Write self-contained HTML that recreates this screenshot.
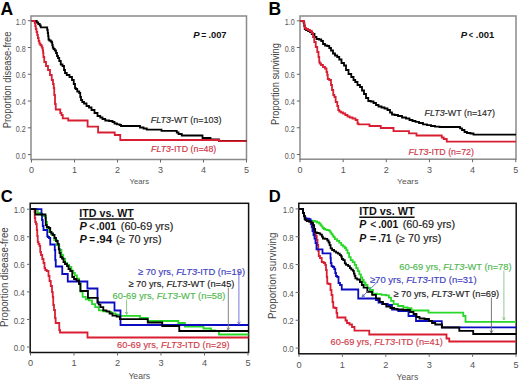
<!DOCTYPE html>
<html><head><meta charset="utf-8"><style>
html,body{margin:0;padding:0;background:#fff;}
svg{display:block;}
text{font-family:"Liberation Sans", sans-serif;}
</style></head><body>
<svg width="520" height="382" viewBox="0 0 520 382">
<rect x="31" y="16" width="215.5" height="143.5" fill="none" stroke="#8a8a8a" stroke-width="1.5"/>
<line x1="27.8" y1="154.60" x2="31" y2="154.60" stroke="#666" stroke-width="1"/>
<text x="25.70" y="158.80" font-size="9.0" fill="#555" text-anchor="end" textLength="9.90" lengthAdjust="spacingAndGlyphs">0.0</text>
<line x1="27.8" y1="127.82" x2="31" y2="127.82" stroke="#666" stroke-width="1"/>
<text x="25.70" y="132.02" font-size="9.0" fill="#555" text-anchor="end" textLength="9.90" lengthAdjust="spacingAndGlyphs">0.2</text>
<line x1="27.8" y1="101.04" x2="31" y2="101.04" stroke="#666" stroke-width="1"/>
<text x="25.70" y="105.24" font-size="9.0" fill="#555" text-anchor="end" textLength="9.90" lengthAdjust="spacingAndGlyphs">0.4</text>
<line x1="27.8" y1="74.26" x2="31" y2="74.26" stroke="#666" stroke-width="1"/>
<text x="25.70" y="78.46" font-size="9.0" fill="#555" text-anchor="end" textLength="9.90" lengthAdjust="spacingAndGlyphs">0.6</text>
<line x1="27.8" y1="47.48" x2="31" y2="47.48" stroke="#666" stroke-width="1"/>
<text x="25.70" y="51.68" font-size="9.0" fill="#555" text-anchor="end" textLength="9.90" lengthAdjust="spacingAndGlyphs">0.8</text>
<line x1="27.8" y1="20.70" x2="31" y2="20.70" stroke="#666" stroke-width="1"/>
<text x="25.70" y="24.90" font-size="9.0" fill="#555" text-anchor="end" textLength="9.90" lengthAdjust="spacingAndGlyphs">1.0</text>
<line x1="31.50" y1="159.5" x2="31.50" y2="162.5" stroke="#666" stroke-width="1"/>
<text x="31.50" y="173.4" font-size="9.0" fill="#555" text-anchor="middle">0</text>
<line x1="74.50" y1="159.5" x2="74.50" y2="162.5" stroke="#666" stroke-width="1"/>
<text x="74.50" y="173.4" font-size="9.0" fill="#555" text-anchor="middle">1</text>
<line x1="117.50" y1="159.5" x2="117.50" y2="162.5" stroke="#666" stroke-width="1"/>
<text x="117.50" y="173.4" font-size="9.0" fill="#555" text-anchor="middle">2</text>
<line x1="160.50" y1="159.5" x2="160.50" y2="162.5" stroke="#666" stroke-width="1"/>
<text x="160.50" y="173.4" font-size="9.0" fill="#555" text-anchor="middle">3</text>
<line x1="203.50" y1="159.5" x2="203.50" y2="162.5" stroke="#666" stroke-width="1"/>
<text x="203.50" y="173.4" font-size="9.0" fill="#555" text-anchor="middle">4</text>
<line x1="246.50" y1="159.5" x2="246.50" y2="162.5" stroke="#666" stroke-width="1"/>
<text x="246.50" y="173.4" font-size="9.0" fill="#555" text-anchor="middle">5</text>
<text x="129.6" y="183.7" font-size="8.0" fill="#555" textLength="19.4" lengthAdjust="spacingAndGlyphs">Years</text>
<text transform="translate(11.2,79.9) rotate(-90)" font-size="10.4" fill="#444" text-anchor="middle" textLength="96.6" lengthAdjust="spacingAndGlyphs">Proportion disease-free</text>
<text x="0.6" y="14.8" font-size="17.5" font-weight="bold" fill="#000">A</text>
<rect x="300" y="16" width="216.0" height="143.2" fill="none" stroke="#8a8a8a" stroke-width="1.5"/>
<line x1="296.8" y1="154.50" x2="300" y2="154.50" stroke="#666" stroke-width="1"/>
<text x="294.70" y="158.70" font-size="9.0" fill="#555" text-anchor="end" textLength="9.90" lengthAdjust="spacingAndGlyphs">0.0</text>
<line x1="296.8" y1="127.76" x2="300" y2="127.76" stroke="#666" stroke-width="1"/>
<text x="294.70" y="131.96" font-size="9.0" fill="#555" text-anchor="end" textLength="9.90" lengthAdjust="spacingAndGlyphs">0.2</text>
<line x1="296.8" y1="101.02" x2="300" y2="101.02" stroke="#666" stroke-width="1"/>
<text x="294.70" y="105.22" font-size="9.0" fill="#555" text-anchor="end" textLength="9.90" lengthAdjust="spacingAndGlyphs">0.4</text>
<line x1="296.8" y1="74.28" x2="300" y2="74.28" stroke="#666" stroke-width="1"/>
<text x="294.70" y="78.48" font-size="9.0" fill="#555" text-anchor="end" textLength="9.90" lengthAdjust="spacingAndGlyphs">0.6</text>
<line x1="296.8" y1="47.54" x2="300" y2="47.54" stroke="#666" stroke-width="1"/>
<text x="294.70" y="51.74" font-size="9.0" fill="#555" text-anchor="end" textLength="9.90" lengthAdjust="spacingAndGlyphs">0.8</text>
<line x1="296.8" y1="20.80" x2="300" y2="20.80" stroke="#666" stroke-width="1"/>
<text x="294.70" y="25.00" font-size="9.0" fill="#555" text-anchor="end" textLength="9.90" lengthAdjust="spacingAndGlyphs">1.0</text>
<line x1="300.00" y1="159.2" x2="300.00" y2="162.2" stroke="#666" stroke-width="1"/>
<text x="300.00" y="173.1" font-size="9.0" fill="#555" text-anchor="middle">0</text>
<line x1="343.15" y1="159.2" x2="343.15" y2="162.2" stroke="#666" stroke-width="1"/>
<text x="343.15" y="173.1" font-size="9.0" fill="#555" text-anchor="middle">1</text>
<line x1="386.30" y1="159.2" x2="386.30" y2="162.2" stroke="#666" stroke-width="1"/>
<text x="386.30" y="173.1" font-size="9.0" fill="#555" text-anchor="middle">2</text>
<line x1="429.45" y1="159.2" x2="429.45" y2="162.2" stroke="#666" stroke-width="1"/>
<text x="429.45" y="173.1" font-size="9.0" fill="#555" text-anchor="middle">3</text>
<line x1="472.60" y1="159.2" x2="472.60" y2="162.2" stroke="#666" stroke-width="1"/>
<text x="472.60" y="173.1" font-size="9.0" fill="#555" text-anchor="middle">4</text>
<line x1="515.75" y1="159.2" x2="515.75" y2="162.2" stroke="#666" stroke-width="1"/>
<text x="515.75" y="173.1" font-size="9.0" fill="#555" text-anchor="middle">5</text>
<text x="397.1" y="183.5" font-size="8.0" fill="#555" textLength="21.3" lengthAdjust="spacingAndGlyphs">Years</text>
<text transform="translate(279.1,84.0) rotate(-90)" font-size="10.4" fill="#444" text-anchor="middle" textLength="81.8" lengthAdjust="spacingAndGlyphs">Proportion surviving</text>
<text x="268.6" y="14.8" font-size="17.5" font-weight="bold" fill="#000">B</text>
<rect x="30.2" y="203.3" width="218.4" height="149.2" fill="none" stroke="#111" stroke-width="1.5"/>
<line x1="27.0" y1="347.00" x2="30.2" y2="347.00" stroke="#666" stroke-width="1"/>
<text x="24.70" y="351.10" font-size="9.2" fill="#555" text-anchor="end" textLength="11.04" lengthAdjust="spacingAndGlyphs">0.0</text>
<line x1="27.0" y1="319.44" x2="30.2" y2="319.44" stroke="#666" stroke-width="1"/>
<text x="24.70" y="323.54" font-size="9.2" fill="#555" text-anchor="end" textLength="11.04" lengthAdjust="spacingAndGlyphs">0.2</text>
<line x1="27.0" y1="291.88" x2="30.2" y2="291.88" stroke="#666" stroke-width="1"/>
<text x="24.70" y="295.98" font-size="9.2" fill="#555" text-anchor="end" textLength="11.04" lengthAdjust="spacingAndGlyphs">0.4</text>
<line x1="27.0" y1="264.32" x2="30.2" y2="264.32" stroke="#666" stroke-width="1"/>
<text x="24.70" y="268.42" font-size="9.2" fill="#555" text-anchor="end" textLength="11.04" lengthAdjust="spacingAndGlyphs">0.6</text>
<line x1="27.0" y1="236.76" x2="30.2" y2="236.76" stroke="#666" stroke-width="1"/>
<text x="24.70" y="240.86" font-size="9.2" fill="#555" text-anchor="end" textLength="11.04" lengthAdjust="spacingAndGlyphs">0.8</text>
<line x1="27.0" y1="209.20" x2="30.2" y2="209.20" stroke="#666" stroke-width="1"/>
<text x="24.70" y="213.30" font-size="9.2" fill="#555" text-anchor="end" textLength="11.04" lengthAdjust="spacingAndGlyphs">1.0</text>
<line x1="30.50" y1="352.5" x2="30.50" y2="355.5" stroke="#666" stroke-width="1"/>
<text x="30.50" y="366.4" font-size="9.2" fill="#555" text-anchor="middle">0</text>
<line x1="74.00" y1="352.5" x2="74.00" y2="355.5" stroke="#666" stroke-width="1"/>
<text x="74.00" y="366.4" font-size="9.2" fill="#555" text-anchor="middle">1</text>
<line x1="117.50" y1="352.5" x2="117.50" y2="355.5" stroke="#666" stroke-width="1"/>
<text x="117.50" y="366.4" font-size="9.2" fill="#555" text-anchor="middle">2</text>
<line x1="161.00" y1="352.5" x2="161.00" y2="355.5" stroke="#666" stroke-width="1"/>
<text x="161.00" y="366.4" font-size="9.2" fill="#555" text-anchor="middle">3</text>
<line x1="204.50" y1="352.5" x2="204.50" y2="355.5" stroke="#666" stroke-width="1"/>
<text x="204.50" y="366.4" font-size="9.2" fill="#555" text-anchor="middle">4</text>
<line x1="248.00" y1="352.5" x2="248.00" y2="355.5" stroke="#666" stroke-width="1"/>
<text x="248.00" y="366.4" font-size="9.2" fill="#555" text-anchor="middle">5</text>
<text x="128.4" y="378.6" font-size="8.2" fill="#555" textLength="21.8" lengthAdjust="spacingAndGlyphs">Years</text>
<text transform="translate(7.9,277.2) rotate(-90)" font-size="10.4" fill="#444" text-anchor="middle" textLength="99.6" lengthAdjust="spacingAndGlyphs">Proportion disease-free</text>
<text x="0.8" y="202.2" font-size="16.6" font-weight="bold" fill="#000">C</text>
<rect x="298.8" y="203.3" width="217.40000000000003" height="150.5" fill="none" stroke="#111" stroke-width="1.5"/>
<line x1="295.6" y1="348.10" x2="298.8" y2="348.10" stroke="#666" stroke-width="1"/>
<text x="293.80" y="352.20" font-size="9.2" fill="#555" text-anchor="end" textLength="11.04" lengthAdjust="spacingAndGlyphs">0.0</text>
<line x1="295.6" y1="320.26" x2="298.8" y2="320.26" stroke="#666" stroke-width="1"/>
<text x="293.80" y="324.36" font-size="9.2" fill="#555" text-anchor="end" textLength="11.04" lengthAdjust="spacingAndGlyphs">0.2</text>
<line x1="295.6" y1="292.42" x2="298.8" y2="292.42" stroke="#666" stroke-width="1"/>
<text x="293.80" y="296.52" font-size="9.2" fill="#555" text-anchor="end" textLength="11.04" lengthAdjust="spacingAndGlyphs">0.4</text>
<line x1="295.6" y1="264.58" x2="298.8" y2="264.58" stroke="#666" stroke-width="1"/>
<text x="293.80" y="268.68" font-size="9.2" fill="#555" text-anchor="end" textLength="11.04" lengthAdjust="spacingAndGlyphs">0.6</text>
<line x1="295.6" y1="236.74" x2="298.8" y2="236.74" stroke="#666" stroke-width="1"/>
<text x="293.80" y="240.84" font-size="9.2" fill="#555" text-anchor="end" textLength="11.04" lengthAdjust="spacingAndGlyphs">0.8</text>
<line x1="295.6" y1="208.90" x2="298.8" y2="208.90" stroke="#666" stroke-width="1"/>
<text x="293.80" y="213.00" font-size="9.2" fill="#555" text-anchor="end" textLength="11.04" lengthAdjust="spacingAndGlyphs">1.0</text>
<line x1="299.00" y1="353.8" x2="299.00" y2="356.8" stroke="#666" stroke-width="1"/>
<text x="299.00" y="367.7" font-size="9.2" fill="#555" text-anchor="middle">0</text>
<line x1="342.40" y1="353.8" x2="342.40" y2="356.8" stroke="#666" stroke-width="1"/>
<text x="342.40" y="367.7" font-size="9.2" fill="#555" text-anchor="middle">1</text>
<line x1="385.80" y1="353.8" x2="385.80" y2="356.8" stroke="#666" stroke-width="1"/>
<text x="385.80" y="367.7" font-size="9.2" fill="#555" text-anchor="middle">2</text>
<line x1="429.20" y1="353.8" x2="429.20" y2="356.8" stroke="#666" stroke-width="1"/>
<text x="429.20" y="367.7" font-size="9.2" fill="#555" text-anchor="middle">3</text>
<line x1="472.60" y1="353.8" x2="472.60" y2="356.8" stroke="#666" stroke-width="1"/>
<text x="472.60" y="367.7" font-size="9.2" fill="#555" text-anchor="middle">4</text>
<line x1="516.00" y1="353.8" x2="516.00" y2="356.8" stroke="#666" stroke-width="1"/>
<text x="516.00" y="367.7" font-size="9.2" fill="#555" text-anchor="middle">5</text>
<text x="396.6" y="380.0" font-size="8.2" fill="#555" textLength="21.6" lengthAdjust="spacingAndGlyphs">Years</text>
<text transform="translate(276.4,275.8) rotate(-90)" font-size="10.4" fill="#444" text-anchor="middle" textLength="86.3" lengthAdjust="spacingAndGlyphs">Proportion surviving</text>
<text x="268.8" y="202.3" font-size="16.6" font-weight="bold" fill="#000">D</text>
<path d="M31.5,20.8H36V20.8H36V21H36.75V22.5H37.5H38.25V24H39H39.75V25.5H40.5H40.75V27.3H41H46.5V27.3H46.75V27.5H47H47.25V30H47.5H47.75V33H48H48.15V36H48.3H48.5V39.5H48.7H49.35V40.5H50H50.75V41.5H51.5H51.75V42.5H52H52.25V45H52.5H52.75V47.5H53H53.5V49H54H54.75V50.5H55.5H56.0V53H56.5H57.0V56H57.5H58.0V58H58.5H59.25V61H60H60.75V64.5H61.5H62.5V66H63.5H64.0V70H64.5H65.0V73H65.5H66.75V75H68H69.5V77H71H72.0V80H73H73.75V84H74.5H75.0V88H75.5H75.75V89H76H77.25V91.5H78.5H79.25V93H80H80.25V97H80.5H81.0V100H81.5H82.25V102H83H84.0V103.5H85H86.5V106H88H89.0V107.5H90H91.5V110H93H94.5V113H96H97.5V116H99H100.25V117.5H101.5H102.5V119H103.5H105.25V120.5H107H109.0V121H111H112.5V122H114H114.5V123.5H115H117.0V124.3H119H119.75V125H120.5H121.0V126H121.5H139V126H140.0V127.5H141H143.5V128.5H146H146.75V129.7H147.5H161V129.7H161.5V130.9H162H176V130.9H176.75V132.5H177.5H178.5V134H179.5H181.75V135.5H184H202V135.5H202.5V138H203H210V138H210.5V139.5H211H218.5V139.5H219.0V141H219.5H246.5V141" fill="none" stroke="#000" stroke-width="1.8" stroke-linejoin="miter"/>
<path d="M31.5,20.8H34.5V20.8H34.75V23H35H35.25V26H35.5H35.75V29H36H36.5V32H37H37.25V35H37.5H37.9V38H38.3H38.65V41H39H39.35V43.5H39.7H40.35V45H41H41.5V46.5H42H42.25V48H42.5H42.75V50.5H43H43.15V53H43.3H43.4V57H43.5H44.25V62H45H46.0V66H47H48.0V70H49H50.0V75H51H51.75V80H52.5H53.0V84H53.5H53.75V88H54H54.25V95H54.5H55.0V104H55.5H55.75V109.5H56H60V109.5H60.25V113H60.5H61.5V115H62.5H62.75V118.3H63H68V118.3H68.25V120.5H68.5H87.5V120.5H87.6V126.7H87.7H98V126.7H98.1V132.5H98.2H114.5V132.5H114.75V135H115H120V135H120.25V140H120.5H219V140H219.25V141.2H219.5H246.5V141.2" fill="none" stroke="#d81e30" stroke-width="1.8" stroke-linejoin="miter"/>
<path d="M300,20.8H303.3V20.8H303.65V22.8H304H304.25V26H304.5H304.75V29H305H306.0V30H307H308.0V31H309H310.0V32H311H311.75V34H312.5H313.5V34H314.5V37H315.5H316.5V39H317.5H319.0V39.5H320.5H321.25V41H322H323.0V44H324H325.0V45.5H326H327.25V46H328.5H329.25V48H330H331.0V50.5H332H333.0V53.5H334H335.0V55.5H336H337.25V57H338.5H339.25V59.5H340H341.5V63H343H344.0V65.5H345H346.0V70H347H348.5V74H350H351.25V77H352.5H353.5V80H354.5H355.25V82H356H357.5V85H359H360.0V87H361H362.0V90.5H363H364.0V94H365H366.0V98H367H368.25V101H369.5H370.75V101.5H372H373.5V103H375H376.0V105H377H378.5V106.5H380H381.5V107.5H383H384.5V108.5H386H387.5V110H389H390.0V112.5H391H392.0V114.5H393H394.5V115H396H398.0V116H400H402.0V117.5H404H406.0V118.5H408H409.5V120H411H412.5V121H414H415.5V121.8H417H419.0V123H421H423.0V124.3H425H427.0V125.2H429H431.0V126H433H435.0V126.6H437H439.5V127H442H459V127H460.0V128.3H461H462.0V130H463H464.5V132H466H467.0V133H468H470.5V133.5H473H473.5V134.7H474H516V134.7" fill="none" stroke="#000" stroke-width="1.8" stroke-linejoin="miter"/>
<path d="M300,20.8H303.3V20.8H303.65V22H304H304.25V25H304.5H304.75V28H305H306.0V29H307H308.0V30H309H310.0V31H311H311.75V33H312.5H313.0V37H313.5H314.25V42H315H315.75V47H316.5H317.25V52H318H318.5V57H319H319.25V62H319.5H319.75V63.5H320H321.0V65H322H323.0V67H324H325.0V68.5H326H326.5V72H327H327.25V75H327.5H327.75V79H328H329.25V80H330.5H331.0V85H331.5H332.0V90H332.5H333.25V95H334H334.4V97H334.8H335.65V102H336.5H337.25V106H338H338.25V110H338.5H339.25V111.5H340H341.0V112.5H342H343.0V113.5H344H345.25V115H346.5H347.5V116.5H348.5H349.75V117.5H351H352.5V118.5H354H355.5V120H357H357.5V123.5H358H358.5V124.4H359H369V124.4H369.5V126H370H380.5V126H380.75V128H381H393V128H393.5V131.2H394H408.5V131.2H409.0V133.3H409.5H416V133.3H416.5V135.5H417H441V135.5H441.75V137.5H442.5H443.75V139H445H446.75V141.7H448.5H516V141.7" fill="none" stroke="#d81e30" stroke-width="1.8" stroke-linejoin="miter"/>
<path d="M30.5,209.2H34.5V209.2H34.5V212H34.75V218H35H35.25V222H35.5H36.0V224H36.5H36.75V230H37H37.25V236H37.5H37.75V242H38H38.5V244H39H39.5V246H40H40.25V252H40.5H41.0V255H41.5H42.25V259H43H43.5V263H44H44.5V268H45H45.25V270H45.5H46.75V271H48H48.5V276H49H49.5V281H50H50.75V286H51.5H52.0V292H52.5H52.75V297H53H53.25V305H53.5H54.0V310H54.5H55.0V318H55.5H55.65V323H55.8H59V323H59.25V330H59.5H60.0V332.5H60.5H87.5V332.5H87.5V337.5H248.6V337.5" fill="none" stroke="#d81e30" stroke-width="1.8" stroke-linejoin="miter"/>
<path d="M30.5,209.2H37.5V209.2H37.75V213H38H41V213H41.5V215H42H43.75V216H45.5H45.75V222H46H47.0V228H48H49.25V232H50.5H51.75V235H53H54.25V240H55.5H56.75V245H58H59.25V250H60.5H61.45V255H62.4H63.2V259H64H65.15V262.9H66.3H67.15V265H68H69.1V266.8H70.2H71.4V270.7H72.6H73.3V273H74H74.85V275.4H75.7H76.9V278.6H78.1H79.05V283H80H80.5V291.5H81H82.6V296.8H84.2H85.75V299.4H87.3H88.9V300.4H90.5H92.05V304.1H93.6H95.2V307.2H96.8H98.85V310.4H100.9H103.0V311.4H105.1H107.2V311.9H109.3H111.4V313.3H113.5H115.6V314.6H117.7H119.0V315.8H120.3H140V315.8H140V317.8H147.5V317.8H147.75V321H148H178V321H178.25V323H178.5H184.8V323H184.9V326.5H185H203V326.5H203.5V328.5H204H210V328.5H211.0V330.5H212H215.0V331H218H219.0V334.5H220H248.6V334.5" fill="none" stroke="#28d828" stroke-width="1.8" stroke-linejoin="miter"/>
<path d="M30.5,209.2H41.5V209.2H41.5V214H42.0V220H42.5H42.75V226H43H43.5V230H44H47V230H47.25V236H47.5H47.75V237H48H49.0V238H50H50.25V244.5H50.5H54.5V244.5H54.75V250H55H55.25V260H55.5H55.75V266.5H56H62V266.5H62.25V274H62.5H67.5V274H67.75V281.5H68H87.4V281.5H87.4V288.5H97.5V288.5H97.5V302.5H114.5V302.5H114.5V310.5H120.5V310.5H120.5V325H248.6V325" fill="none" stroke="#0b0bc0" stroke-width="1.8" stroke-linejoin="miter"/>
<path d="M30.5,209.2H35.5V209.2H35.5V214.5H45.5V214.5H45.5V218H45.75V225H46H46.75V227H47.5H48.75V228H50H50.25V232H50.5H51.25V233.5H52H53.0V235H54H54.5V238H55H56.0V241H57H57.75V244H58.5H58.75V249H59H59.5V253H60H60.5V257H61H62.0V258.5H63H63.5V262H64H65.0V264H66H67.0V266H68H68.5V269H69H70.25V271H71.5H72.25V277H73H74.0V279H75H76.5V280.5H78H79.0V284H80H80.4V291H80.8H87.5V291H87.95V297.8H88.4H97.3V297.8H97.65V302.5H98H98.7V304.6H99.4H100.45V307.2H101.5H103.3V310.4H105.1H106.4V311.4H107.7H109.55V313.5H111.4H112.45V315.6H113.5H116.65V316.6H119.8H119.9V319.2H120H147.5V319.2H147.75V322.5H148H162V322.5H162.25V326H162.5H179V326H179.25V331H179.5H248.6V331" fill="none" stroke="#000" stroke-width="1.8" stroke-linejoin="miter"/>
<path d="M299,208.9H302.5V208.9H302.5V209H303.0V213H303.5H304.0V216H304.5H304.75V219H305H305.5V219.5H306H307.0V220H308H309.0V221H310H310.75V224H311.5H312.0V227H312.5H313.0V230H313.5H314.25V233H315H315.75V236H316.5H316.75V240H317H317.5V245H318H318.25V251H318.5H318.75V256H319H320.0V258H321H321.75V262H322.5H323.75V263H325H325.25V265H325.5H326.0V270H326.5H326.75V277H327H327.25V283.5H327.5H328.75V284H330H330.5V290H331H331.5V295H332H332.5V302H333H333.25V307.5H333.5H334.75V308H336H336.5V313H337H337.25V317.5H337.5H345V317.5H345.5V320.5H346H347.0V323H348H349.5V324.5H351H352.0V327H353H354.5V330.7H356H369V330.7H369.25V334.5H369.5H446V334.5H446.5V338.5H447H449V338.5H449.25V341.5H449.5H516.2V341.5" fill="none" stroke="#d81e30" stroke-width="1.8" stroke-linejoin="miter"/>
<path d="M299,208.9H302.5V208.9H302.5V209H303.0V213H303.5H304.0V216H304.5H304.75V219H305H306.0V219.5H307H308.25V220H309.5H310.5V220.6H311.5H312.5V220.8H313.5H314.8V221.5H316.1H317.1V222.5H318.1H319.1V223.5H320.1H320.55V225.1H321H321.5V226.4H322H322.65V228H323.3H323.95V229H324.6H325.3V229.7H326H326.95V230H327.9H328.75V230.7H329.6H330.25V232.3H330.9H331.35V233.9H331.8H332.5V235.6H333.2H333.6V237.2H334H334.85V239.2H335.7H337.0V240.8H338.3H339.3V242.8H340.3H341.25V245.1H342.2H343.1V246.5H344H344.85V248H345.7H346.25V250.1H346.8H347.55V253.1H348.3H349.1V257.1H349.9H350.7V260.2H351.5H352.7V262.2H353.9H354.65V264.9H355.4H356.2V268.1H357H357.8V271.2H358.6H359.35V274.4H360.1H360.9V277.5H361.7H362.3V280H362.9H363.7V282.5H364.5H365.5V285H366.5H367.5V288H368.5H369.85V290H371.2H373.0V293.6H374.8H376.85V294.2H378.9H381.55V294.8H384.2H385.95V295.4H387.7H388.9V297.7H390.1H391.0V300.9H391.9H393.65V304.2H395.4H398.05V306H400.7H403.35V307.5H406H407.5V308.2H409H411.5V310.5H414H428V310.5H428.5V312.7H429H462.5V312.7H463.25V316H464H465.5V321.8H467H516.2V321.8" fill="none" stroke="#28d828" stroke-width="1.8" stroke-linejoin="miter"/>
<path d="M299,208.9H302.5V208.9H302.5V209H303.0V213H303.5H304.0V216H304.5H304.75V217.5H305H305.5V218.3H306H307.0V218.6H308H309.0V219.2H310H310.5V221H311H311.25V224H311.5H311.75V227H312H312.5V231H313H313.5V235H314H314.5V238.5H315H315.5V243H316H316.5V249.3H317H322.3V249.3H322.5V253.3H322.7H330.4V253.3H330.5V258H330.6H330.8V263H331H331.5V266H332H332.75V267H333.5H334.25V269H335H335.25V273H335.5H336.0V276H336.5H337.25V277H338H338.5V283H339H340.0V285H341H341.75V289.5H342.5H358V289.5H358.25V298.5H358.5H375V298.5H376.0V300H377H378.5V302.5H380H382.0V304H384H387.75V305H391.5H392.0V309.5H392.5H398V309.5H398.25V311H398.5H408.5V311H408.5V316H416V316H416V321H426V321H428.0V321.2H430H441.8V321.2H441.8V327.4H516.2V327.4" fill="none" stroke="#0b0bc0" stroke-width="1.8" stroke-linejoin="miter"/>
<path d="M299,208.9H302.5V208.9H302.5V209H303.0V213H303.5H304.0V216H304.5H304.75V219H305H305.5V220H306H306.75V221H307.5H309.2V221.8H310.9H311.7V223H312.5H313.0V225.1H313.5H314.15V229H314.8H315.15V232.3H315.5H316.8V233H318.1H318.7V233.3H319.3H320.3V234.6H321.3H321.95V236.6H322.6H322.9V238.5H323.2H324.85V238.9H326.5H327.3V240.5H328.1H328.6V242.5H329.1H329.6V245.1H330.1H330.6V248.4H331.1H332.1V250H333.1H334.05V251.3H335H336.0V252.6H337H337.95V253.6H338.9H339.75V255.2H340.6H341.1V256.5H341.6H341.85V259H342.1H343.25V260.2H344.4H344.8V263.4H345.2H346.0V264.9H346.8H348.15V266.1H349.5H349.9V268.1H350.3H351.3V269.6H352.3H352.9V270.8H353.5H353.85V273.6H354.2H354.6V275.9H355H355.4V278.3H355.8H357.2V279.5H358.6H359.9V282H361.2H361.85V285H362.5H363.6V287.7H364.7H367.35V291.8H370H372.1V294.8H374.2H375.95V298.3H377.7H379.75V301.8H381.8H383.0V304.2H384.2H386.25V306.6H388.3H390.4V308H392.5H394.25V308.9H396H397.15V309.5H398.3H403.15V310H408H410.0V312H412H413.5V314H415H416.5V317H418H419.5V318.5H421H424.5V319H428H429.0V321H430H432.0V323H434H435.25V324.5H436.5H442V324.5H442V327.5H459.3V327.5H459.3V330.8H473.2V330.8H473.2V334H516.2V334" fill="none" stroke="#000" stroke-width="1.8" stroke-linejoin="miter"/>
<line x1="238.9" y1="271" x2="238.9" y2="324.4" stroke="#6a6ad8" stroke-width="0.9"/>
<path d="M237.50,321.80L238.9,324.4L240.30,321.80" fill="none" stroke="#6a6ad8" stroke-width="0.9"/>
<line x1="228.3" y1="287.5" x2="228.3" y2="330.2" stroke="#777" stroke-width="0.9"/>
<path d="M226.90,327.60L228.3,330.2L229.70,327.60" fill="none" stroke="#777" stroke-width="0.9"/>
<line x1="126.6" y1="299.5" x2="126.6" y2="314.5" stroke="#7fbf7f" stroke-width="0.9"/>
<path d="M125.20,311.90L126.6,314.5L128.00,311.90" fill="none" stroke="#7fbf7f" stroke-width="0.9"/>
<line x1="503.9" y1="270.5" x2="503.9" y2="320" stroke="#8cbf8c" stroke-width="0.9"/>
<path d="M502.50,317.40L503.9,320L505.30,317.40" fill="none" stroke="#8cbf8c" stroke-width="0.9"/>
<line x1="491.4" y1="297.5" x2="491.4" y2="333" stroke="#666" stroke-width="0.9"/>
<path d="M490.00,330.40L491.4,333L492.80,330.40" fill="none" stroke="#666" stroke-width="0.9"/>
<line x1="377" y1="282.3" x2="362.2" y2="296.8" stroke="#5a6ab0" stroke-width="0.9"/>
<path d="M363.08,293.98L362.2,296.8L365.04,295.98" fill="none" stroke="#5a6ab0" stroke-width="0.9"/>
<text x="193.15" y="37.8" font-size="9.2" fill="#111" font-weight="bold" font-style="italic" textLength="6.40" lengthAdjust="spacingAndGlyphs">P</text>
<text x="201.15" y="37.8" font-size="9.2" fill="#111" font-weight="bold" font-style="normal" textLength="5.00" lengthAdjust="spacingAndGlyphs">=</text>
<text x="208.45" y="37.8" font-size="9.2" fill="#111" font-weight="bold" font-style="normal" textLength="18.10" lengthAdjust="spacingAndGlyphs">.007</text>
<text x="150.8" y="122.8" font-size="8.8" fill="#2a2a2a" stroke="#2a2a2a" stroke-width="0.15" textLength="70.6" lengthAdjust="spacingAndGlyphs"><tspan font-style="italic">FLT3</tspan>-WT (n=103)</text>
<text x="151.0" y="152.2" font-size="8.8" fill="#cf3446" stroke="#cf3446" stroke-width="0.15" textLength="65.3" lengthAdjust="spacingAndGlyphs"><tspan font-style="italic">FLT3</tspan>-ITD (n=48)</text>
<text x="460.75" y="37.9" font-size="9.2" fill="#111" font-weight="bold" font-style="italic" textLength="6.40" lengthAdjust="spacingAndGlyphs">P</text>
<text x="468.85" y="37.9" font-size="9.2" fill="#111" font-weight="bold" font-style="normal" textLength="4.30" lengthAdjust="spacingAndGlyphs">&lt;</text>
<text x="475.75" y="37.9" font-size="9.2" fill="#111" font-weight="bold" font-style="normal" textLength="18.40" lengthAdjust="spacingAndGlyphs">.001</text>
<text x="424.6" y="116.0" font-size="8.8" fill="#2a2a2a" stroke="#2a2a2a" stroke-width="0.15" textLength="70.4" lengthAdjust="spacingAndGlyphs"><tspan font-style="italic">FLT3</tspan>-WT (n=147)</text>
<text x="408.6" y="154.5" font-size="8.8" fill="#cf3446" stroke="#cf3446" stroke-width="0.15" textLength="65.3" lengthAdjust="spacingAndGlyphs"><tspan font-style="italic">FLT3</tspan>-ITD (n=72)</text>
<text x="79.3" y="216.5" font-size="10.4" fill="#111" font-weight="bold" textLength="54.6" lengthAdjust="spacingAndGlyphs">ITD vs. WT</text>
<line x1="79.5" y1="219.0" x2="133.8" y2="219.0" stroke="#111" stroke-width="1.4"/>
<text x="79.55" y="229.9" font-size="10.4" fill="#111" font-weight="bold" font-style="italic" textLength="7.30" lengthAdjust="spacingAndGlyphs">P</text>
<text x="89.15" y="229.9" font-size="10.4" fill="#111" font-weight="normal" font-style="normal" stroke="#111" stroke-width="0.15" textLength="5.40" lengthAdjust="spacingAndGlyphs">&lt;</text>
<text x="96.15" y="229.9" font-size="10.4" fill="#111" font-weight="bold" font-style="normal" textLength="19.90" lengthAdjust="spacingAndGlyphs">.001</text>
<text x="120.85" y="229.9" font-size="10.4" fill="#1a1a1a" font-weight="normal" font-style="normal" stroke="#1a1a1a" stroke-width="0.15" textLength="52.40" lengthAdjust="spacingAndGlyphs">(60-69 yrs)</text>
<text x="79.55" y="243.0" font-size="10.4" fill="#111" font-weight="bold" font-style="italic" textLength="7.30" lengthAdjust="spacingAndGlyphs">P</text>
<text x="89.15" y="243.0" font-size="10.4" fill="#111" font-weight="bold" font-style="normal" textLength="5.70" lengthAdjust="spacingAndGlyphs">=</text>
<text x="96.15" y="243.0" font-size="10.4" fill="#111" font-weight="bold" font-style="normal" textLength="16.00" lengthAdjust="spacingAndGlyphs">.94</text>
<text x="115.95" y="243.0" font-size="10.4" fill="#1a1a1a" font-weight="normal" font-style="normal" stroke="#1a1a1a" stroke-width="0.15" textLength="45.60" lengthAdjust="spacingAndGlyphs">(≥ 70 yrs)</text>
<text x="138.0" y="274.7" font-size="9.4" fill="#4040c0" stroke="#4040c0" stroke-width="0.15" textLength="107.0" lengthAdjust="spacingAndGlyphs">≥ 70 yrs, <tspan font-style="italic">FLT3</tspan>-ITD (n=19)</text>
<text x="128.4" y="286.7" font-size="9.4" fill="#222" stroke="#222" stroke-width="0.15" textLength="106.0" lengthAdjust="spacingAndGlyphs">≥ 70 yrs, <tspan font-style="italic">FLT3</tspan>-WT (n=45)</text>
<text x="112.6" y="299.0" font-size="9.4" fill="#50b850" stroke="#50b850" stroke-width="0.15" textLength="112.8" lengthAdjust="spacingAndGlyphs">60-69 yrs, <tspan font-style="italic">FLT3</tspan>-WT (n=58)</text>
<text x="117.1" y="348.0" font-size="9.4" fill="#d03a48" stroke="#d03a48" stroke-width="0.15" textLength="112.6" lengthAdjust="spacingAndGlyphs">60-69 yrs, <tspan font-style="italic">FLT3</tspan>-ITD (n=29)</text>
<text x="359.3" y="215.0" font-size="10.4" fill="#111" font-weight="bold" textLength="55.4" lengthAdjust="spacingAndGlyphs">ITD vs. WT</text>
<line x1="359.3" y1="217.3" x2="414.6" y2="217.3" stroke="#111" stroke-width="1.4"/>
<text x="359.35" y="228.3" font-size="10.4" fill="#111" font-weight="bold" font-style="italic" textLength="7.00" lengthAdjust="spacingAndGlyphs">P</text>
<text x="370.35" y="228.3" font-size="10.4" fill="#111" font-weight="normal" font-style="normal" stroke="#111" stroke-width="0.15" textLength="5.90" lengthAdjust="spacingAndGlyphs">&lt;</text>
<text x="378.15" y="228.3" font-size="10.4" fill="#111" font-weight="bold" font-style="normal" textLength="20.10" lengthAdjust="spacingAndGlyphs">.001</text>
<text x="402.75" y="228.3" font-size="10.4" fill="#1a1a1a" font-weight="normal" font-style="normal" stroke="#1a1a1a" stroke-width="0.15" textLength="52.30" lengthAdjust="spacingAndGlyphs">(60-69 yrs)</text>
<text x="359.35" y="241.6" font-size="10.4" fill="#111" font-weight="bold" font-style="italic" textLength="7.00" lengthAdjust="spacingAndGlyphs">P</text>
<text x="369.85" y="241.6" font-size="10.4" fill="#111" font-weight="bold" font-style="normal" textLength="6.40" lengthAdjust="spacingAndGlyphs">=</text>
<text x="378.15" y="241.6" font-size="10.4" fill="#111" font-weight="bold" font-style="normal" textLength="13.20" lengthAdjust="spacingAndGlyphs">.71</text>
<text x="395.45" y="241.6" font-size="10.4" fill="#1a1a1a" font-weight="normal" font-style="normal" stroke="#1a1a1a" stroke-width="0.15" textLength="45.90" lengthAdjust="spacingAndGlyphs">(≥ 70 yrs)</text>
<text x="399.3" y="269.5" font-size="9.4" fill="#50b850" stroke="#50b850" stroke-width="0.15" textLength="112.3" lengthAdjust="spacingAndGlyphs">60-69 yrs, <tspan font-style="italic">FLT3</tspan>-WT (n=78)</text>
<text x="369.9" y="282.7" font-size="9.4" fill="#4040c0" stroke="#4040c0" stroke-width="0.15" textLength="106.7" lengthAdjust="spacingAndGlyphs">≥70 yrs, <tspan font-style="italic">FLT3</tspan>-ITD (n=31)</text>
<text x="393.4" y="296.5" font-size="9.4" fill="#222" stroke="#222" stroke-width="0.15" textLength="105.8" lengthAdjust="spacingAndGlyphs">≥ 70 yrs, <tspan font-style="italic">FLT3</tspan>-WT (n=69)</text>
<text x="330.6" y="344.8" font-size="9.4" fill="#d03a48" stroke="#d03a48" stroke-width="0.15" textLength="112.3" lengthAdjust="spacingAndGlyphs">60-69 yrs, <tspan font-style="italic">FLT3</tspan>-ITD (n=41)</text>
</svg>
</body></html>
